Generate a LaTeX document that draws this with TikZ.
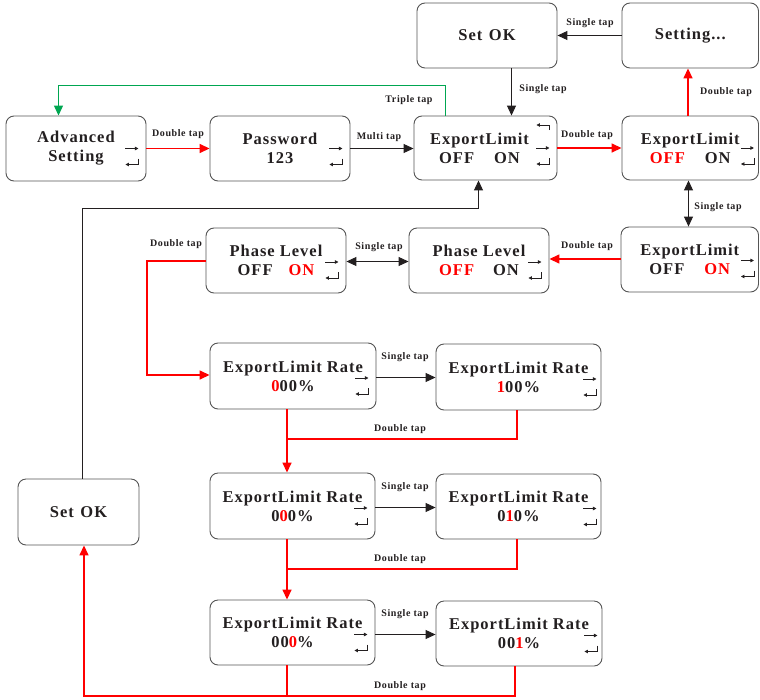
\documentclass[tikz,border=0pt]{standalone}
\usepackage{fontspec}
\setmainfont{Liberation Serif}[LetterSpace=6]
\usetikzlibrary{arrows.meta,calc}
\definecolor{ink}{HTML}{231F20}
\definecolor{rd}{HTML}{FF0000}
\definecolor{gn}{HTML}{00A651}
\definecolor{bx}{HTML}{555555}
\newcommand\icons[3]{% node, right offset, y offset of arrow
  \draw[icn] ($(#1.east)+(-#2-13,#3)$) -- ++(13,0);
  \draw[icn] ($(#1.east)+(-#2,#3+10)$) -- ++(0,6) -- ++(-13,0);
}
\begin{document}
\begin{tikzpicture}[x=1pt,y=-1pt,
  box/.style={draw=bx, line width=0.9pt, rounded corners=8pt, inner sep=0pt,
    font=\fontsize{16.5}{19}\selectfont\bfseries, text=ink, align=center},
  lab/.style={font=\fontsize{10}{12}\selectfont\bfseries, text=ink, inner sep=0pt},
  tip/.style={-{Triangle[length=10pt,width=9pt]}},
  dtip/.style={{Triangle[length=10pt,width=9pt]}-{Triangle[length=10pt,width=9pt]}},
  icn/.style={draw=ink, line width=0.8pt, -{Triangle[length=3.5pt,width=3.5pt]}},
  redl/.style={line width=1.5pt, draw=rd},
  blkl/.style={line width=1pt, draw=ink},
  grnl/.style={line width=1.3pt, draw=gn}]
\useasboundingbox (0,0) rectangle (760,699);

% boxes
\node[box, minimum width=140pt, minimum height=65pt] (adv) at (76,148.5) {Advanced\\Setting};
\node[box, minimum width=140pt, minimum height=65pt] (pw) at (280,148.5) {Password\\123};
\node[box, minimum width=143pt, minimum height=64pt] (elc) at (485.5,148)
  {ExportLimit\hspace*{12pt}\\OFF\hspace{20pt}ON\hspace*{12pt}};
\node[box, minimum width=140pt, minimum height=65pt] (sok) at (487,35.5) {Set\hspace{0.4em}OK};
\node[box, minimum width=136.5pt, minimum height=65pt] (sett) at (690.25,35.5) {Setting...};
\node[box, minimum width=136.5pt, minimum height=64pt] (elr) at (690.25,148)
  {ExportLimit\\\textcolor{rd}{OFF}\hspace{20pt}ON};
\node[box, minimum width=137.5pt, minimum height=65pt] (elon) at (689.75,259.5)
  {ExportLimit\\OFF\hspace{20pt}\textcolor{rd}{ON}};
\node[box, minimum width=140pt, minimum height=65pt] (phl) at (276,260.5)
  {Phase Level\\OFF\hspace{16pt}\textcolor{rd}{ON}};
\node[box, minimum width=140pt, minimum height=65pt] (phr) at (479,260.5)
  {Phase Level\\\textcolor{rd}{OFF}\hspace{19pt}ON};
\node[box, minimum width=166pt, minimum height=66pt] (r1l) at (293,376)
  {ExportLimit Rate\\\textcolor{rd}{0}00\%};
\node[box, minimum width=165pt, minimum height=66pt] (r1r) at (518.5,377)
  {ExportLimit Rate\\\textcolor{rd}{1}00\%};
\node[box, minimum width=165pt, minimum height=66pt] (r2l) at (292.5,506)
  {ExportLimit Rate\\0\textcolor{rd}{0}0\%};
\node[box, minimum width=165pt, minimum height=65pt] (r2r) at (518.5,506.5)
  {ExportLimit Rate\\0\textcolor{rd}{1}0\%};
\node[box, minimum width=165pt, minimum height=65pt] (r3l) at (292.5,632.5)
  {ExportLimit Rate\\00\textcolor{rd}{0}\%};
\node[box, minimum width=166pt, minimum height=65pt] (r3r) at (519,633.5)
  {ExportLimit Rate\\00\textcolor{rd}{1}\%};
\node[box, minimum width=121pt, minimum height=66pt] (sokl) at (78.5,512) {Set\hspace{0.4em}OK};

% icons
\icons{adv}{8}{0}
\icons{pw}{8}{0}
\icons{elc}{8}{0}
\draw[icn] ($(elc.east)+(-8,-18)$) -- ++(0,-5) -- ++(-13,0);
\icons{elr}{5}{0}
\icons{elon}{5}{1}
\icons{phl}{8}{1.5}
\icons{phr}{8}{1.5}
\icons{r1l}{8}{2}
\icons{r1r}{5}{2}
\icons{r2l}{8}{2}
\icons{r2r}{5}{2}
\icons{r3l}{8}{2}
\icons{r3r}{5}{2}

% connectors
\draw[redl, tip] (adv.east) -- (pw.west);
\draw[blkl, tip] (pw.east) -- (pw.east -| elc.west);
\draw[redl, tip] (elc.east) -- (elc.east -| elr.west);
\draw[redl, tip] (elr.north -| 688,0) -- (sett.south -| 688,0);
\draw[blkl, tip] (sett.west) -- (sok.east);
\draw[blkl, tip] (sok.south -| 511.5,0) -- (elc.north -| 511.5,0);
\draw[grnl, tip] (elc.north -| 445.5,0) -- ++(0,-30) -| (adv.north -| 58.5,0);
\draw[blkl, dtip] (elr.south -| 688.5,0) -- (elon.north -| 688.5,0);
\draw[redl, tip] (elon.west |- 0,259) -- (phr.east |- 0,259);
\draw[blkl, dtip] (phl.east |- 0,261.5) -- (phr.west |- 0,261.5);
\draw[redl, tip] (phl.west |- 0,261) -| (147,375) -- (r1l.west |- 0,375);
\draw[blkl, tip] (r1l.east |- 0,377.5) -- (r1r.west |- 0,377.5);
\draw[redl] (r1r.south -| 517,0) |- (287,439);
\draw[redl, tip] (r1l.south -| 287,0) -- (r2l.north -| 287,0);
\draw[blkl, tip] (r2l.east |- 0,507.5) -- (r2r.west |- 0,507.5);
\draw[redl] (r2r.south -| 517,0) |- (287,569);
\draw[redl, tip] (r2l.south -| 287,0) -- (r3l.north -| 287,0);
\draw[blkl, tip] (r3l.east |- 0,634.5) -- (r3r.west |- 0,634.5);
\draw[redl, tip] (r3r.south -| 515,0) |- (84,696) -- (sokl.south -| 84,0);
\draw[redl] (r3l.south -| 287,0) -- (287,696);
\draw[blkl, tip] (sokl.north -| 82.5,0) |- (478.5,208.5) -- (elc.south -| 478.5,0);

% labels
\node[lab] (l1) at (178,134) {Double tap};
\node[lab] (l2) at (379,137) {Multi tap};
\node[lab] (l3) at (409,100) {Triple tap};
\node[lab] (l4) at (590,23) {Single tap};
\node[lab] (l5) at (543,89) {Single tap};
\node[lab] (l6) at (587,135) {Double tap};
\node[lab] (l7) at (726,92) {Double tap};
\node[lab] (l8) at (718,207) {Single tap};
\node[lab] (l9) at (176,244) {Double tap};
\node[lab] (l10) at (379,247) {Single tap};
\node[lab] (l11) at (587,246) {Double tap};
\node[lab] (l12) at (405,357) {Single tap};
\node[lab] (l13) at (400,429) {Double tap};
\node[lab] (l14) at (405,487) {Single tap};
\node[lab] (l15) at (400,559) {Double tap};
\node[lab] (l16) at (405,614) {Single tap};
\node[lab] (l17) at (400,686) {Double tap};
\end{tikzpicture}
\end{document}
